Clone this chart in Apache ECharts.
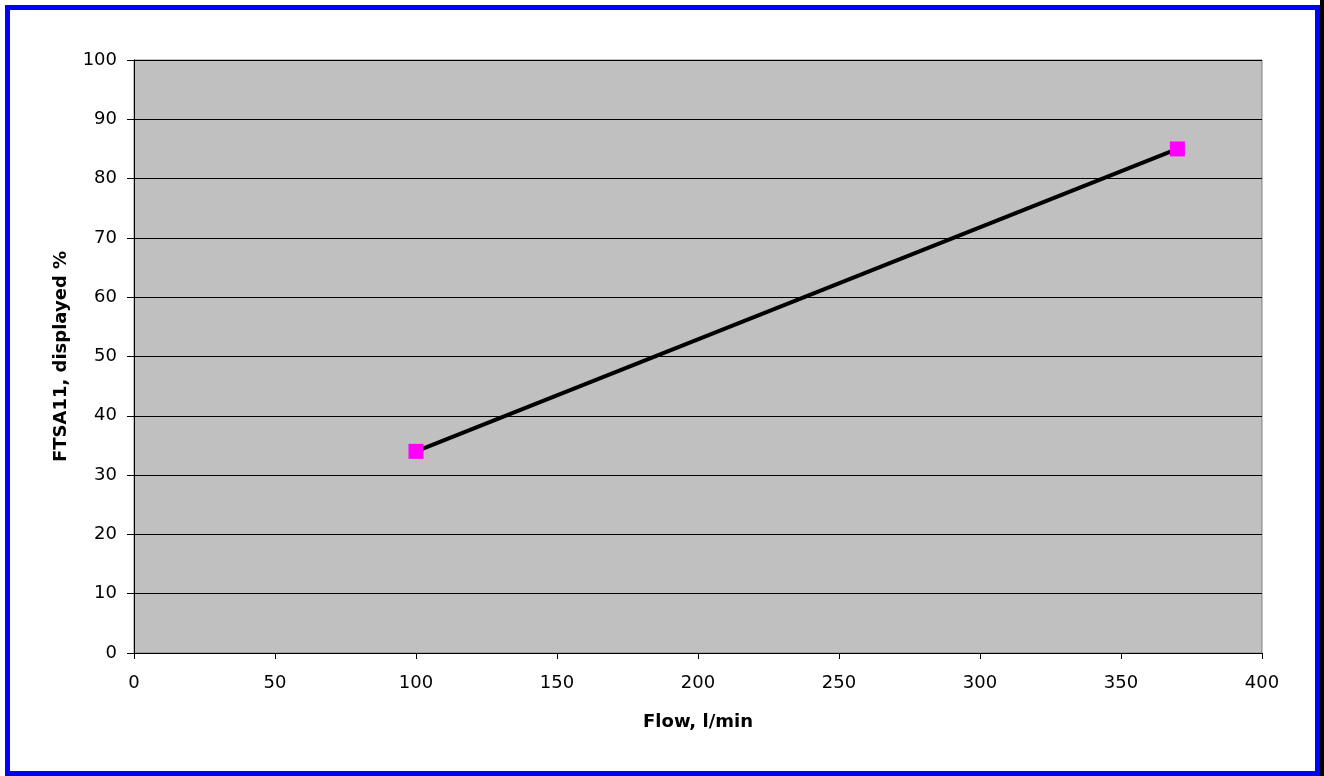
<!DOCTYPE html>
<html>
<head>
<meta charset="utf-8">
<script src="https://cdn.jsdelivr.net/npm/echarts@6/dist/echarts.min.js"></script>
<style>
  html, body { margin: 0; padding: 0; background: #fff; }
  #chart { width: 1324px; height: 776px; }
</style>
</head>
<body>
<div id="chart"></div>
<script>
var flow = [100, 370];
var displayed = [34, 85];
var xTicks = [0, 50, 100, 150, 200, 250, 300, 350, 400];
var yTicks = [0, 10, 20, 30, 40, 50, 60, 70, 80, 90, 100];

var points = flow.map(function (f, i) { return [f, displayed[i]]; });
var font = '"DejaVu Sans", Arial, sans-serif';

var chart = echarts.init(document.getElementById('chart'));
chart.setOption({
    backgroundColor: '#fff',
    animation: false,
    graphic: [
        { type: 'rect', shape: { x: 1320, y: 0, width: 4, height: 776 }, style: { fill: '#000' }, z: 0 },
        { type: 'rect', shape: { x: 7.5, y: 7.5, width: 1310, height: 766 }, style: { fill: 'none', stroke: '#0000ff', lineWidth: 5 }, z: 100 }
    ],
    grid: {
        left: 134, right: 62, top: 60, bottom: 123,
        show: true, backgroundColor: '#c0c0c0', borderColor: '#808080', borderWidth: 1
    },
    xAxis: {
        type: 'value', min: xTicks[0], max: xTicks[xTicks.length - 1], interval: 50,
        name: 'Flow, l/min', nameLocation: 'middle', nameGap: 60,
        nameTextStyle: { fontFamily: font, fontSize: 18, fontWeight: 'bold', color: '#000' },
        axisLine: { show: true, onZero: false, lineStyle: { color: '#000', width: 1 } },
        axisTick: { show: true, length: 6, lineStyle: { color: '#000' } },
        axisLabel: { fontFamily: font, fontSize: 18, color: '#000', margin: 21 },
        splitLine: { show: false }
    },
    yAxis: {
        type: 'value', min: yTicks[0], max: yTicks[yTicks.length - 1], interval: 10,
        name: 'FTSA11, displayed %', nameLocation: 'middle', nameGap: 64,
        nameTextStyle: { fontFamily: font, fontSize: 18, fontWeight: 'bold', color: '#000' },
        axisLine: { show: true, lineStyle: { color: '#000', width: 1 } },
        axisTick: { show: true, length: 7, lineStyle: { color: '#000' } },
        axisLabel: { fontFamily: font, fontSize: 18, color: '#000', margin: 17 },
        splitLine: { show: true, lineStyle: { color: '#000', width: 1 } }
    },
    series: [{
        type: 'line',
        data: points,
        symbol: 'rect',
        symbolSize: 15,
        itemStyle: { color: '#ff00ff' },
        lineStyle: { color: '#000', width: 4 },
        z: 3
    }]
});
</script>
</body>
</html>
